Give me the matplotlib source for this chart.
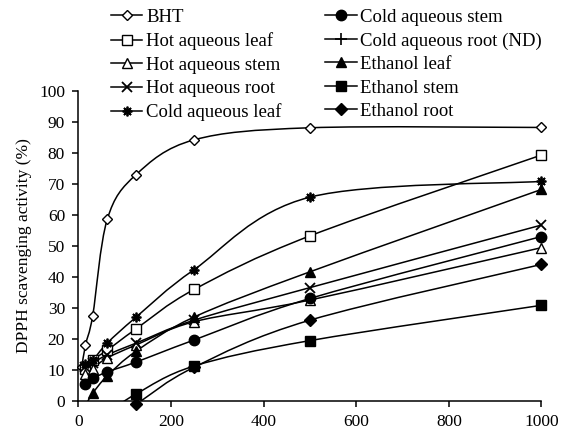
import matplotlib
matplotlib.use('Agg')
import matplotlib.pyplot as plt
from matplotlib.path import Path
from matplotlib.patches import PathPatch
from matplotlib.lines import Line2D

plt.rcParams['font.family'] = ['Liberation Serif', 'DejaVu Serif']

# concentration (ug/ml) and DPPH scavenging activity (%)
conc = [15.625, 31.25, 62.5, 125, 250, 500, 1000]

bht_x = [7.8] + conc
bht = [11.0, 18.0, 27.5, 58.5, 73.0, 84.2, 88.1, 88.2]

hot_leaf = [10.4, 13.2, 16.3, 23.2, 35.9, 53.2, 79.3]
hot_stem = [8.5, 10.4, 13.8, 18.0, 25.5, 32.5, 49.4]
hot_root = [11.0, 12.2, 14.8, 18.6, 26.0, 36.5, 56.7]
cold_leaf = [11.8, 13.1, 18.6, 27.0, 42.3, 65.7, 70.8]
cold_stem = [5.5, 7.2, 9.3, 12.5, 19.6, 33.0, 53.0]

eth_x = [15.625, 31.25, 62.5, 125, 250, 500, 1000]
eth_leaf = [-1.5, 2.4, 8.0, 16.0, 27.0, 41.6, 68.2]
eth_stem_x = [62.5, 125, 250, 500, 1000]
eth_stem = [-4.0, 2.2, 11.2, 19.4, 30.8]
eth_root = [-8.0, -1.2, 10.8, 26.0, 44.0]


def smooth_path(xs, ys):
    # Excel-like smoothed line: cubic Bezier segments through the data points
    pts = list(zip(xs, ys))
    verts = [pts[0]]
    codes = [Path.MOVETO]
    n = len(pts)
    for i in range(n - 1):
        p0 = pts[i - 1] if i > 0 else pts[i]
        p1 = pts[i]
        p2 = pts[i + 1]
        p3 = pts[i + 2] if i + 2 < n else pts[i + 1]
        c1 = (p1[0] + (p2[0] - p0[0]) / 6, p1[1] + (p2[1] - p0[1]) / 6)
        c2 = (p2[0] - (p3[0] - p1[0]) / 6, p2[1] - (p3[1] - p1[1]) / 6)
        verts += [c1, c2, p2]
        codes += [Path.CURVE4] * 3
    return Path(verts, codes)


fig = plt.figure(figsize=(5.67, 4.37), dpi=100)
ax = fig.add_axes([0.138, 0.083, 0.817, 0.709])

series = [
    ('BHT', bht_x, bht, dict(marker='D', ms=5.5, mfc='white')),
    ('Hot aqueous leaf', conc, hot_leaf, dict(marker='s', ms=7.5, mfc='white')),
    ('Hot aqueous stem', conc, hot_stem, dict(marker='^', ms=7.5, mfc='white')),
    ('Hot aqueous root', conc, hot_root, dict(marker='x', ms=7, mew=1.3)),
    ('Cold aqueous leaf', conc, cold_leaf, dict(marker=(8, 2, 0), ms=7, mew=1.3)),
    ('Cold aqueous stem', conc, cold_stem, dict(marker='o', ms=7.5, mfc='black')),
    ('Cold aqueous root (ND)', [], [], dict(marker='+', ms=8, mew=1.2)),
    ('Ethanol leaf', eth_x, eth_leaf, dict(marker='^', ms=7.5, mfc='black')),
    ('Ethanol stem', eth_stem_x, eth_stem, dict(marker='s', ms=7.5, mfc='black')),
    ('Ethanol root', eth_stem_x, eth_root, dict(marker='D', ms=6, mfc='black')),
]

handles = []
for label, xs, ys, style in series:
    if xs:
        ax.add_patch(PathPatch(smooth_path(xs, ys), fill=False, ec='black', lw=1.1, zorder=2))
        mx = [x for x, y in zip(xs, ys) if y >= -1.3]
        my = [y for y in ys if y >= -1.3]
        ax.plot(mx, my, ls='none', color='black', mec='black', clip_on=False, zorder=3, **style)
    handles.append(Line2D([], [], color='black', lw=1.1, mec='black', **style))

ax.set_xlim(0, 1000)
ax.set_ylim(0, 100)
ax.set_xticks(range(0, 1001, 200))
ax.set_yticks(range(0, 101, 10))
ax.spines['top'].set_visible(False)
ax.spines['right'].set_visible(False)
for s in ('left', 'bottom'):
    ax.spines[s].set_linewidth(1.1)
ax.tick_params(direction='out', length=4.5, width=1.1, labelsize=12.5, pad=5)
ax.set_ylabel('DPPH scavenging activity (%)', fontsize=12.5, labelpad=5)

fig.legend(handles, [s[0] for s in series], ncol=2, frameon=False,
           loc='upper left', bbox_to_anchor=(0.195, 0.98), fontsize=13.5,
           handlelength=1.7, handletextpad=0.2, columnspacing=2.3,
           labelspacing=0.34, borderpad=0, borderaxespad=0)

fig.savefig('out.png', dpi=100)
